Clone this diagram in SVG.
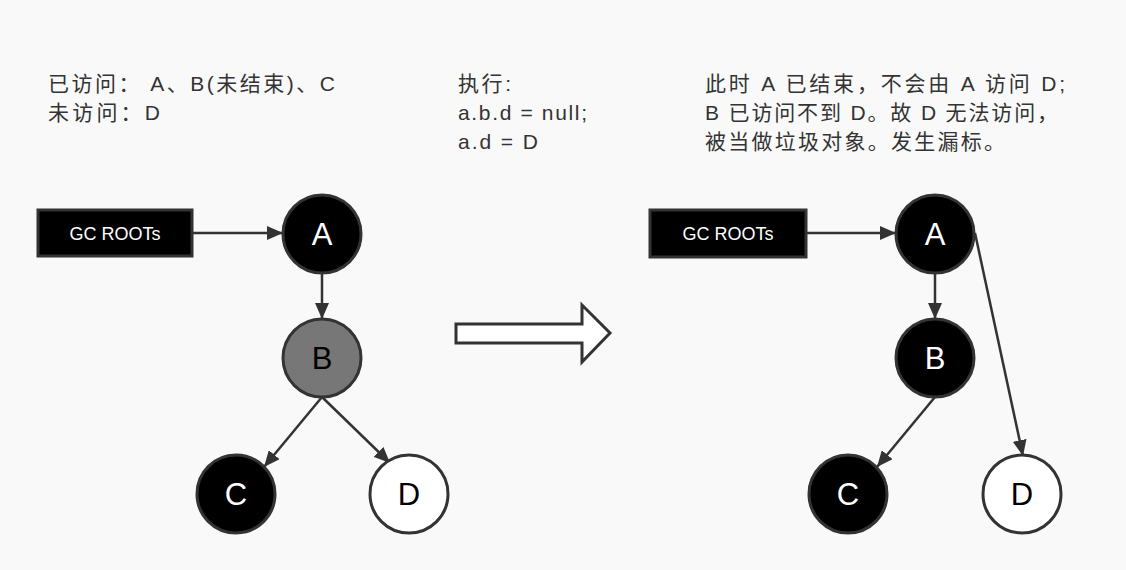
<svg xmlns="http://www.w3.org/2000/svg" width="1126" height="570" viewBox="0 0 1126 570">
<defs>
<style>
.t{font-family:"Liberation Sans","Noto Sans CJK SC",sans-serif;font-size:21px;fill:#333}
.n{stroke:#333;stroke-width:3}
.lbl{font-family:"Liberation Sans","Noto Sans CJK SC",sans-serif;font-size:31px;text-anchor:middle}
.gc{font-family:"Liberation Sans",sans-serif;font-size:18px;fill:#fff;text-anchor:middle}
.e{stroke:#333;stroke-width:2.5;fill:none;marker-end:url(#ah)}
</style>
<marker id="ah" viewBox="0 0 16 14" refX="16" refY="7" markerWidth="16" markerHeight="14" markerUnits="userSpaceOnUse" orient="auto">
<path d="M0,0 L16,7 L0,14 z" fill="#333"/>
</marker>
</defs>
<rect width="1126" height="570" fill="#f9f9f9"/>
<g id="texts">
<text class="t" x="48" y="91" textLength="287" lengthAdjust="spacing">已访问：  A、B(未结束)、C</text>
<text class="t" x="48" y="120" textLength="112" lengthAdjust="spacing">未访问：D</text>
<text class="t" x="458" y="91" textLength="53" lengthAdjust="spacing">执行:</text>
<text class="t" x="458" y="120" textLength="129" lengthAdjust="spacing">a.b.d = null;</text>
<text class="t" x="458" y="149" textLength="80" lengthAdjust="spacing">a.d = D</text>
<text class="t" x="705" y="91" textLength="360" lengthAdjust="spacing">此时 A 已结束，不会由 A 访问 D;</text>
<text class="t" x="705" y="120" textLength="353" lengthAdjust="spacing">B 已访问不到 D。故 D 无法访问，</text>
<text class="t" x="705" y="149" textLength="300" lengthAdjust="spacing">被当做垃圾对象。发生漏标。</text>
</g>
<g id="connectors">
<line class="e" x1="193" y1="233" x2="283" y2="233"/>
<line class="e" x1="322" y1="273" x2="322" y2="319"/>
<line class="e" x1="322" y1="397" x2="264" y2="467"/>
<line class="e" x1="322" y1="397" x2="390" y2="463"/>
<line class="e" x1="807" y1="233" x2="896" y2="233"/>
<line class="e" x1="935" y1="273" x2="935" y2="319"/>
<line class="e" x1="935" y1="397" x2="877" y2="467"/>
<line class="e" x1="975" y1="233" x2="1023" y2="456"/>
</g>
<g id="bigarrow">
<path d="M456,324 L582,324 L582,305 L610,333 L582,362 L582,343 L456,343 Z" fill="#fff" stroke="#333" stroke-width="3"/>
</g>
<g id="gc1"><rect class="n" x="38" y="210" width="154" height="46" fill="#000"/><text class="gc" x="115" y="240">GC ROOTs</text></g>
<g id="a1"><circle class="n" cx="322" cy="234" r="39" fill="#000"/><text class="lbl" x="322" y="245" fill="#fff">A</text></g>
<g id="b1"><circle class="n" cx="322" cy="358" r="39" fill="#777"/><text class="lbl" x="322" y="369" fill="#000">B</text></g>
<g id="c1"><circle class="n" cx="236" cy="494" r="39" fill="#000"/><text class="lbl" x="236" y="505" fill="#fff">C</text></g>
<g id="d1"><circle class="n" cx="409" cy="494" r="39" fill="#fff"/><text class="lbl" x="409" y="505" fill="#000">D</text></g>
<g id="gc2"><rect class="n" x="650" y="210" width="156" height="47" fill="#000"/><text class="gc" x="728" y="240">GC ROOTs</text></g>
<g id="a2"><circle class="n" cx="935" cy="234" r="39" fill="#000"/><text class="lbl" x="935" y="245" fill="#fff">A</text></g>
<g id="b2"><circle class="n" cx="935" cy="358" r="39" fill="#000"/><text class="lbl" x="935" y="369" fill="#fff">B</text></g>
<g id="c2"><circle class="n" cx="848" cy="494" r="39" fill="#000"/><text class="lbl" x="848" y="505" fill="#fff">C</text></g>
<g id="d2"><circle class="n" cx="1022" cy="494" r="39" fill="#fff"/><text class="lbl" x="1022" y="505" fill="#000">D</text></g>
</svg>
